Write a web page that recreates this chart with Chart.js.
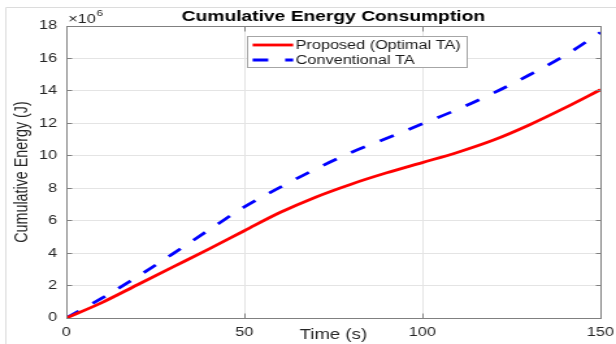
<!DOCTYPE html>
<html>
<head>
<meta charset="utf-8">
<script src="https://cdn.jsdelivr.net/npm/chart.js@4.4.1/dist/chart.umd.min.js"></script>
<style>
html,body{margin:0;padding:0;background:#fff;overflow:hidden}
</style>
</head>
<body>
<canvas id="c" width="474" height="344" style="display:block;width:616px;height:344px"></canvas>
<script>
// ---- data (energy in units of 10^6 J) ----
const timeSeconds        = [0, 10, 20, 30, 40, 50, 60, 70, 80, 90, 100, 110, 120, 130, 140, 150];
const proposedEnergy     = [0, 0.95, 2.05, 3.15, 4.25, 5.38, 6.5, 7.45, 8.25, 8.95, 9.58, 10.22, 10.97, 11.9, 12.95, 14.07];
const conventionalEnergy = [0, 1.22, 2.55, 3.97, 5.42, 6.85, 8.05, 9.18, 10.2, 11.08, 11.97, 12.87, 13.87, 14.98, 16.18, 17.6];
const yTickValues = [0, 2, 4, 6, 8, 10, 12, 14, 16, 18];
const xTickValues = [0, 50, 100, 150];
const seriesLabels = ['Proposed (Optimal TA)', 'Conventional TA'];
const chartTitle = 'Cumulative Energy Consumption';
const xAxisLabel = 'Time (s)';
const yAxisLabel = 'Cumulative Energy (J)';
const yExponentBase = '\u00d710';
const yExponentPower = '6';

// ---- styling ----
const FONT = '"Liberation Sans", Arial, Helvetica, sans-serif';
const TXT = '#262626';
const AXIS = '#808080';
const GRID = '#e4e4e4';

function alignPx(v){ return Math.round(v - 0.5) + 0.5; }

const decorations = {
  id: 'decorations',
  afterDraw(chart) {
    const {ctx, chartArea: a, scales: {x, y}} = chart;
    ctx.save();
    // outer faint frame (left & top)
    ctx.strokeStyle = '#dcdcdc';
    ctx.lineWidth = 1;
    ctx.beginPath();
    ctx.moveTo(4.5, 344); ctx.lineTo(4.5, 7.5); ctx.lineTo(chart.width, 7.5);
    ctx.stroke();

    // axes box top & right + inward ticks
    ctx.strokeStyle = AXIS;
    ctx.beginPath();
    const L = alignPx(a.left), R = alignPx(a.right), T = alignPx(a.top), B = alignPx(a.bottom);
    ctx.moveTo(L, T); ctx.lineTo(R, T); ctx.lineTo(R, B);
    yTickValues.forEach(v => {
      const py = alignPx(y.getPixelForValue(v));
      ctx.moveTo(L, py); ctx.lineTo(L + 4, py);
      ctx.moveTo(R, py); ctx.lineTo(R - 4, py);
    });
    xTickValues.forEach(v => {
      const px = alignPx(x.getPixelForValue(v));
      ctx.moveTo(px, B); ctx.lineTo(px, B - 5);
      ctx.moveTo(px, T); ctx.lineTo(px, T + 5);
    });
    ctx.stroke();

    // exponent label
    ctx.fillStyle = TXT;
    ctx.textBaseline = 'middle';
    ctx.textAlign = 'left';
    ctx.font = '12.5px ' + FONT;
    const ex = a.left + 1.5;
    ctx.fillText(yExponentBase, ex, 20);
    const w = ctx.measureText(yExponentBase).width;
    ctx.font = '9px ' + FONT;
    ctx.fillText(yExponentPower, ex + w + 0.5, 14);

    // legend box
    const bx0 = 190.5, by0 = 36.5, bx1 = 359.5, by1 = 67.5;
    ctx.fillStyle = '#ffffff';
    ctx.fillRect(bx0, by0, bx1 - bx0, by1 - by0);
    ctx.strokeStyle = '#a6a6a6';
    ctx.lineWidth = 1;
    ctx.strokeRect(bx0, by0, bx1 - bx0, by1 - by0);
    const rows = [45, 60];
    chart.data.datasets.forEach((ds, i) => {
      const ry = rows[i];
      ctx.strokeStyle = ds.borderColor;
      ctx.lineWidth = ds.borderWidth;
      ctx.setLineDash(ds.borderDash || []);
      ctx.beginPath();
      ctx.moveTo(194.4, ry); ctx.lineTo(225.6, ry);
      ctx.stroke();
      ctx.setLineDash([]);
      ctx.fillStyle = '#1a1a1a';
      ctx.font = '12.5px ' + FONT;
      ctx.textAlign = 'left';
      ctx.textBaseline = 'middle';
      ctx.fillText(ds.label, 227.5, ry + 0.5);
    });
    ctx.restore();
  }
};

const toPoints = (xs, ys) => xs.map((t, i) => ({x: t, y: ys[i]}));

new Chart(document.getElementById('c'), {
  type: 'line',
  data: {
    datasets: [
      {
        label: seriesLabels[0],
        data: toPoints(timeSeconds, proposedEnergy),
        borderColor: '#ff0000',
        borderWidth: 2.8,
        pointRadius: 0,
        cubicInterpolationMode: 'monotone',
        fill: false
      },
      {
        label: seriesLabels[1],
        data: toPoints(timeSeconds, conventionalEnergy),
        borderColor: '#0000ff',
        borderWidth: 2.8,
        borderDash: [12, 13],
        pointRadius: 0,
        cubicInterpolationMode: 'monotone',
        fill: false
      }
    ]
  },
  options: {
    responsive: false,
    devicePixelRatio: 1,
    animation: false,
    layout: {padding: {left: 0, right: 12, top: 0, bottom: 0}},
    plugins: {
      legend: {display: false},
      tooltip: {enabled: false},
      title: {
        display: true,
        text: chartTitle,
        fullSize: false,
        color: '#000000',
        font: {family: FONT, size: 14.8, weight: 'bold', lineHeight: 1.2},
        padding: {top: 8, bottom: 0.24}
      }
    },
    scales: {
      x: {
        type: 'linear',
        min: 0, max: 150,
        afterBuildTicks: s => { s.ticks = xTickValues.map(v => ({value: v})); },
        afterFit: s => { s.height = 26; s.paddingLeft = 0; s.paddingRight = 0; },
        ticks: {color: TXT, font: {family: FONT, size: 12.5, lineHeight: 1.2}, padding: 7, maxRotation: 0},
        grid: {color: GRID, drawTicks: false, lineWidth: 1},
        border: {display: true, color: AXIS, width: 1},
        title: {
          display: true, text: xAxisLabel, color: TXT,
          font: {family: FONT, size: 14.3, lineHeight: 1.2},
          padding: {top: 0, bottom: 0.5}
        }
      },
      y: {
        type: 'linear',
        min: 0, max: 18,
        afterBuildTicks: s => { s.ticks = yTickValues.map(v => ({value: v})); },
        afterFit: s => { s.width = 51; s.paddingTop = 0; s.paddingBottom = 0; },
        ticks: {color: TXT, font: {family: FONT, size: 12.5, lineHeight: 1.2}, padding: 7},
        grid: {color: GRID, drawTicks: false, lineWidth: 1},
        border: {display: true, color: AXIS, width: 1},
        title: {
          display: true, text: yAxisLabel, color: TXT,
          font: {family: FONT, size: 14.3, lineHeight: 1.2},
          padding: {top: 8.5, bottom: 0}
        }
      }
    }
  },
  plugins: [decorations]
});
</script>
</body>
</html>
